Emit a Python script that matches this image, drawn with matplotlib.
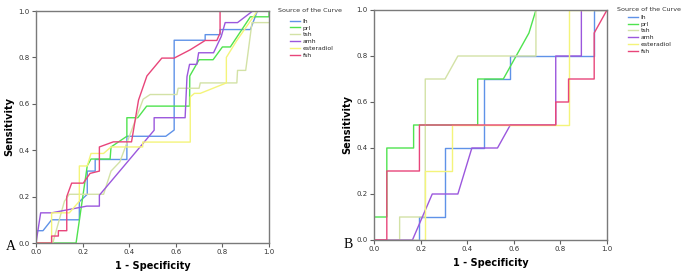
import matplotlib
matplotlib.use('Agg')
import matplotlib.pyplot as plt

# ROC curve points, panel A
a_lh_x = [0, 0, 0.03, 0.067, 0.186, 0.186, 0.22, 0.22, 0.254, 0.254, 0.39, 0.39, 0.557, 0.593, 0.593, 0.726, 0.726, 0.79, 0.79, 0.92, 0.95, 1.0]
a_lh_y = [0, 0.053, 0.053, 0.10, 0.10, 0.178, 0.21, 0.31, 0.31, 0.36, 0.36, 0.46, 0.46, 0.487, 0.874, 0.874, 0.898, 0.898, 0.92, 0.92, 1.0, 1.0]

a_prl_x = [0, 0.172, 0.22, 0.236, 0.318, 0.322, 0.39, 0.39, 0.437, 0.475, 0.659, 0.66, 0.70, 0.76, 0.80, 0.834, 0.92, 1.0, 1.0]
a_prl_y = [0, 0, 0.333, 0.362, 0.362, 0.414, 0.46, 0.54, 0.54, 0.59, 0.59, 0.72, 0.79, 0.79, 0.845, 0.845, 0.975, 0.975, 1.0]

a_tsh_x = [0, 0.072, 0.122, 0.143, 0.29, 0.322, 0.36, 0.46, 0.49, 0.605, 0.61, 0.70, 0.705, 0.862, 0.865, 0.90, 0.927, 1.0]
a_tsh_y = [0, 0, 0.18, 0.21, 0.21, 0.31, 0.35, 0.62, 0.64, 0.64, 0.667, 0.667, 0.69, 0.69, 0.744, 0.744, 0.95, 0.95]

a_amh_x = [0, 0.02, 0.067, 0.218, 0.272, 0.272, 0.507, 0.507, 0.64, 0.648, 0.659, 0.69, 0.698, 0.762, 0.795, 0.812, 0.865, 0.93, 1.0]
a_amh_y = [0, 0.13, 0.13, 0.159, 0.159, 0.206, 0.486, 0.54, 0.54, 0.717, 0.77, 0.77, 0.82, 0.82, 0.89, 0.95, 0.95, 1.0, 1.0]

a_est_x = [0, 0.067, 0.067, 0.143, 0.186, 0.186, 0.22, 0.236, 0.29, 0.322, 0.458, 0.458, 0.662, 0.662, 0.68, 0.705, 0.817, 0.817, 0.86, 0.95, 1.0]
a_est_y = [0, 0, 0.13, 0.13, 0.18, 0.332, 0.332, 0.386, 0.386, 0.414, 0.414, 0.435, 0.435, 0.63, 0.645, 0.645, 0.69, 0.80, 0.87, 1.0, 1.0]

a_fsh_x = [0, 0.067, 0.067, 0.096, 0.096, 0.132, 0.132, 0.153, 0.203, 0.232, 0.272, 0.272, 0.332, 0.41, 0.44, 0.476, 0.54, 0.593, 0.662, 0.726, 0.776, 0.79, 0.79, 1.0]
a_fsh_y = [0, 0, 0.03, 0.03, 0.053, 0.053, 0.20, 0.258, 0.258, 0.30, 0.31, 0.414, 0.436, 0.436, 0.616, 0.72, 0.797, 0.797, 0.833, 0.873, 0.873, 0.905, 1.0, 1.0]

# panel B
b_lh_x = [0, 0.195, 0.195, 0.305, 0.305, 0.47, 0.47, 0.585, 0.585, 0.945, 0.945, 1.0]
b_lh_y = [0, 0, 0.1, 0.1, 0.4, 0.4, 0.7, 0.7, 0.8, 0.8, 1.0, 1.0]

b_prl_x = [0, 0, 0.055, 0.055, 0.17, 0.17, 0.445, 0.445, 0.555, 0.665, 0.695, 1.0]
b_prl_y = [0, 0.1, 0.1, 0.4, 0.4, 0.5, 0.5, 0.7, 0.7, 0.9, 1.0, 1.0]

b_tsh_x = [0, 0.11, 0.11, 0.22, 0.22, 0.305, 0.36, 0.695, 0.695, 1.0]
b_tsh_y = [0, 0, 0.1, 0.1, 0.7, 0.7, 0.8, 0.8, 1.0, 1.0]

b_amh_x = [0, 0.165, 0.25, 0.36, 0.42, 0.53, 0.585, 0.78, 0.78, 0.89, 0.89, 1.0]
b_amh_y = [0, 0, 0.2, 0.2, 0.4, 0.4, 0.5, 0.5, 0.8, 0.8, 1.0, 1.0]

b_est_x = [0, 0.22, 0.22, 0.335, 0.335, 0.835, 0.835, 1.0]
b_est_y = [0, 0, 0.3, 0.3, 0.5, 0.5, 1.0, 1.0]

b_fsh_x = [0, 0.055, 0.055, 0.195, 0.195, 0.78, 0.78, 0.835, 0.835, 0.945, 0.945, 1.0]
b_fsh_y = [0, 0, 0.3, 0.3, 0.5, 0.5, 0.6, 0.6, 0.7, 0.7, 0.9, 1.0]

labels = ['lh', 'prl', 'tsh', 'amh', 'esteradiol', 'fsh']
colors = ['#5f92e8', '#4fe34f', '#d3e2a6', '#9b57dd', '#f4f47a', '#e8457a']
ticks = [0.0, 0.2, 0.4, 0.6, 0.8, 1.0]

panels = [
    ('A', [(a_lh_x, a_lh_y), (a_prl_x, a_prl_y), (a_tsh_x, a_tsh_y),
           (a_amh_x, a_amh_y), (a_est_x, a_est_y), (a_fsh_x, a_fsh_y)]),
    ('B', [(b_lh_x, b_lh_y), (b_prl_x, b_prl_y), (b_tsh_x, b_tsh_y),
           (b_amh_x, b_amh_y), (b_est_x, b_est_y), (b_fsh_x, b_fsh_y)]),
]

fig = plt.figure(figsize=(6.85, 2.73), dpi=100)
rects = [[36/685, 1-243/273, 233/685, 232/273],
         [374/685, 1-240/273, 233/685, 230/273]]
letter_pos = [(6/685, 1-250/273), (344/685, 1-248/273)]
# legend title and entries placement (axes fraction)
title_pos = [(1.039, 1.0), (1.043, 1.004)]
entry_anchor = [(1.09, 0.968), (1.09, 0.98)]

for (letter, series), rect, lp, tp, ea in zip(panels, rects, letter_pos, title_pos, entry_anchor):
    ax = fig.add_axes(rect)
    for (xs, ys), lab, col in zip(series, labels, colors):
        ax.plot(xs, ys, color=col, lw=1.0, label=lab)
    ax.set_xlim(0, 1)
    ax.set_ylim(0, 1)
    ax.set_xticks(ticks)
    ax.set_yticks(ticks)
    ax.set_xticklabels(['%.1f' % t for t in ticks])
    ax.set_yticklabels(['%.1f' % t for t in ticks])
    ax.tick_params(labelsize=5, length=3, width=0.8, color='#606060', pad=1.5, labelcolor='#333333')
    for s in ax.spines.values():
        s.set_color('#7a7a7a')
        s.set_linewidth(1.0)
    ax.set_xlabel('1 - Specificity', fontsize=7, fontweight='bold', labelpad=4)
    ax.set_ylabel('Sensitivity', fontsize=7, fontweight='bold', labelpad=3)
    ax.text(tp[0], tp[1], 'Source of the Curve', transform=ax.transAxes,
            fontsize=4.6, color='#333333', ha='left', va='center')
    leg = ax.legend(loc='upper left', bbox_to_anchor=ea, frameon=False,
                    fontsize=4.4, handlelength=1.6, handletextpad=0.45,
                    labelspacing=0.25, borderaxespad=0, borderpad=0)
    for t in leg.get_texts():
        t.set_color('#222222')
    fig.text(lp[0], lp[1], letter, fontsize=10, family='Liberation Serif')

fig.savefig('out.png', dpi=100)
